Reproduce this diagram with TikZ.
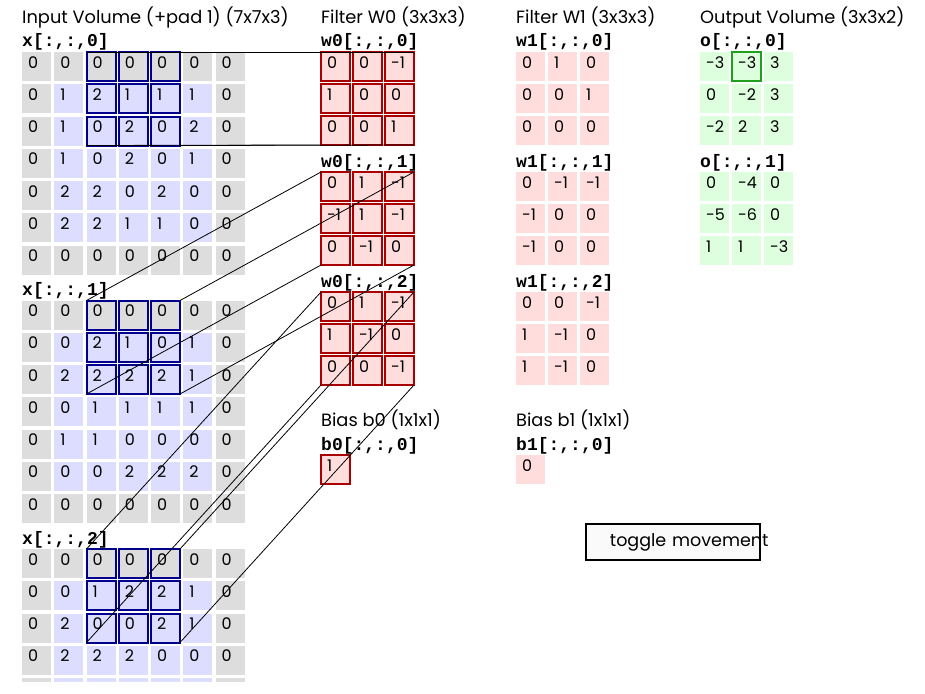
\documentclass[tikz,border=0pt]{standalone}
\usepackage{fontspec}
\setmainfont{Poppins}
\newfontfamily\codefont{Liberation Mono}
\usepackage{tikz}
\definecolor{padgray}{RGB}{221,221,221}
\definecolor{inblue}{RGB}{221,221,255}
\definecolor{wpink}{RGB}{255,221,221}
\definecolor{ogreen}{RGB}{221,255,221}
\definecolor{winblue}{RGB}{0,0,140}
\definecolor{wred}{RGB}{170,0,0}
\definecolor{hgreen}{RGB}{30,160,30}
\tikzset{cell/.style={rectangle, anchor=north west, minimum width=29pt, minimum height=29pt,
  inner xsep=6pt, inner ysep=5pt, text width=17pt, text height=11pt, text depth=8pt,
  align=left, outer sep=0pt, line width=2pt, font=\fontsize{16}{19}\selectfont},
%titles and slice names
headtxt/.style={anchor=base west, inner sep=0pt, font=\fontsize{17.8}{21}\selectfont},
slicetxt/.style={anchor=base west, inner sep=0pt, font=\codefont\bfseries\fontsize{18}{21}\selectfont},
cornerline/.style={black, line width=0.8pt},
togglebtn/.style={rectangle, anchor=north west, minimum width=174pt, minimum height=36pt,
  inner xsep=24pt, text width=126pt, align=left, fill=black!2, draw=black, line width=1.8pt,
  font=\fontsize{17.5}{20}\selectfont}}

\begin{document}
\begin{tikzpicture}[x=1pt,y=-1pt]
\useasboundingbox (0,0) rectangle (925,693);
\fill[white] (0,0) rectangle (925,693);
\clip (0,0) rectangle (925,681);

% input volume
\node[headtxt] (tin) at (22,24) {Input Volume (+pad 1) (7x7x3)};
\foreach \slab [count=\d from 0] in {
 {{0,0,0,0,0,0,0},{0,1,2,1,1,1,0},{0,1,0,2,0,2,0},{0,1,0,2,0,1,0},{0,2,2,0,2,0,0},{0,2,2,1,1,0,0},{0,0,0,0,0,0,0}},
 {{0,0,0,0,0,0,0},{0,0,2,1,0,1,0},{0,2,2,2,2,1,0},{0,0,1,1,1,1,0},{0,1,1,0,0,0,0},{0,0,0,2,2,2,0},{0,0,0,0,0,0,0}},
 {{0,0,0,0,0,0,0},{0,0,1,2,2,1,0},{0,2,0,0,2,1,0},{0,2,2,2,0,0,0},{{},{},{},{},{},{},{}}}}{
  \node[slicetxt] (xl\d) at (22,{47+248.5*\d}) {x[:,:,\d]};
  \foreach \row [count=\r from 0] in \slab
    \foreach \v [count=\c from 0] in \row {
      \pgfmathtruncatemacro\pad{(\r==0)||(\r==6)||(\c==0)||(\c==6)}
      \pgfmathtruncatemacro\win{(\r<3)&&(\c>1)&&(\c<5)}
      \ifnum\pad=1 \def\cellcol{padgray}\else\def\cellcol{inblue}\fi
      \ifnum\win=1 \def\linecol{winblue}\else\def\linecol{none}\fi
      \node[cell, fill=\cellcol, draw=\linecol] (x\d-\r-\c) at ({22+32.25*\c},{52+248.5*\d+32.25*\r}) {\v};
    }
}

% filter W0
\node[headtxt] (tw0) at (321,24) {Filter W0 (3x3x3)};
\foreach \slab [count=\d from 0] in {
 {{0,0,-1},{1,0,0},{0,0,1}},
 {{0,1,-1},{-1,1,-1},{0,-1,0}},
 {{0,1,-1},{1,-1,0},{0,0,-1}}}{
  \node[slicetxt] (w0l\d) at (321,{47+120*\d}) {w0[:,:,\d]};
  \foreach \row [count=\r from 0] in \slab
    \foreach \v [count=\c from 0] in \row
      \node[cell, fill=wpink, draw=wred] (w0-\d-\r-\c) at ({321+32*\c},{52+120*\d+32*\r}) {\mbox{\v}};
}

% filter W1
\node[headtxt] (tw1) at (516,24) {Filter W1 (3x3x3)};
\foreach \slab [count=\d from 0] in {
 {{0,1,0},{0,0,1},{0,0,0}},
 {{0,-1,-1},{-1,0,0},{-1,0,0}},
 {{0,0,-1},{1,-1,0},{1,-1,0}}}{
  \node[slicetxt] (w1l\d) at (516,{47+120*\d}) {w1[:,:,\d]};
  \foreach \row [count=\r from 0] in \slab
    \foreach \v [count=\c from 0] in \row
      \node[cell, fill=wpink] (w1-\d-\r-\c) at ({516+32*\c},{52+120*\d+32*\r}) {\mbox{\v}};
}

% biases
\node[headtxt] (tb0) at (321,426) {Bias b0 (1x1x1)};
\node[slicetxt] (b0l) at (321,450) {b0[:,:,0]};
\node[cell, fill=wpink, draw=wred] (b0) at (321,455) {1};
\node[headtxt] (tb1) at (516,426) {Bias b1 (1x1x1)};
\node[slicetxt] (b1l) at (516,450) {b1[:,:,0]};
\node[cell, fill=wpink] (b1) at (516,455) {0};

% output volume
\node[headtxt] (tout) at (700,24) {Output Volume (3x3x2)};
\foreach \slab [count=\d from 0] in {
 {{-3,-3,3},{0,-2,3},{-2,2,3}},
 {{0,-4,0},{-5,-6,0},{1,1,-3}}}{
  \node[slicetxt] (ol\d) at (700,{47+120*\d}) {o[:,:,\d]};
  \foreach \row [count=\r from 0] in \slab
    \foreach \v [count=\c from 0] in \row
      \node[cell, fill=ogreen] (o-\d-\r-\c) at ({700+32*\c},{52+120*\d+32*\r}) {\mbox{\v}};
}
\draw[hgreen, line width=2pt] (o-0-0-1.north west) rectangle (o-0-0-1.south east);

%corner lines from window to filter
\foreach \d in {0,1,2}{
  \draw[cornerline] (x\d-0-2.north west) -- (w0-\d-0-0.north west);
  \draw[cornerline] (x\d-0-4.north east) -- (w0-\d-0-2.north east);
  \draw[cornerline] (x\d-2-2.south west) -- (w0-\d-2-0.south west);
  \draw[cornerline] (x\d-2-4.south east) -- (w0-\d-2-2.south east);
}

\node[togglebtn] (toggle) at (585,523) {\mbox{toggle movement}};
\end{tikzpicture}
\end{document}
